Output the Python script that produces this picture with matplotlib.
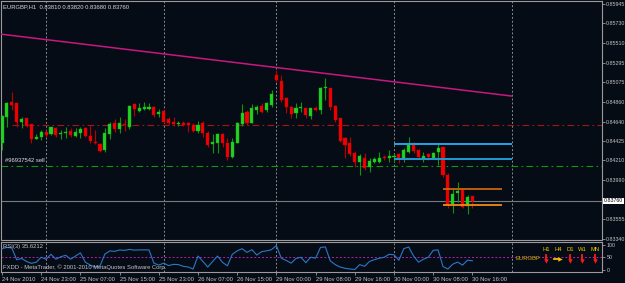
import matplotlib
matplotlib.use('Agg')
import matplotlib.pyplot as plt
import numpy as np

plt.rcParams['font.family'] = 'Liberation Sans'

# EURGBP H1, 24 Nov 15:00 .. 30 Nov 16:00
opens = [0.84407, 0.84689, 0.84862, 0.84844, 0.84640, 0.84678, 0.84611, 0.84452, 0.84467, 0.84523,
         0.84500, 0.84567, 0.84504, 0.84518, 0.84540, 0.84482, 0.84518, 0.84567, 0.84482, 0.84418,
         0.84393, 0.84326, 0.84504, 0.84622, 0.84556, 0.84611, 0.84585, 0.84833, 0.84762, 0.84778,
         0.84781, 0.84807, 0.84726, 0.84759, 0.84670, 0.84640, 0.84611, 0.84629, 0.84622, 0.84604,
         0.84540, 0.84622, 0.84518, 0.84393, 0.84407, 0.84504, 0.84407, 0.84252, 0.84407, 0.84615,
         0.84751, 0.84629, 0.84770, 0.84815, 0.84770, 0.84826, 0.85159, 0.85095, 0.84900, 0.84798,
         0.84734, 0.84796, 0.84789, 0.84704, 0.84796, 0.84770, 0.85011, 0.85011, 0.84815, 0.84678,
         0.84456, 0.84400, 0.84290, 0.84196, 0.84241, 0.84141, 0.84196, 0.84196, 0.84252, 0.84241,
         0.84245, 0.84278, 0.84223, 0.84307, 0.84393, 0.84326, 0.84223, 0.84278, 0.84234, 0.84307,
         0.84356, 0.84049, 0.83727, 0.83845, 0.83882, 0.83705, 0.83810]
highs = [0.84715, 0.84862, 0.84973, 0.84859, 0.84696, 0.84685, 0.84615, 0.84500, 0.84548, 0.84548,
         0.84585, 0.84585, 0.84548, 0.84585, 0.84567, 0.84567, 0.84585, 0.84585, 0.84604, 0.84548,
         0.84400, 0.84567, 0.84640, 0.84667, 0.84689, 0.84667, 0.84822, 0.84851, 0.84844, 0.84856,
         0.84851, 0.84815, 0.84778, 0.84770, 0.84696, 0.84689, 0.84651, 0.84651, 0.84640, 0.84629,
         0.84648, 0.84648, 0.84537, 0.84504, 0.84512, 0.84509, 0.84456, 0.84456, 0.84640, 0.84837,
         0.84770, 0.84837, 0.84826, 0.84844, 0.84862, 0.84992, 0.85214, 0.85159, 0.84918, 0.84815,
         0.84844, 0.84862, 0.84796, 0.84796, 0.84818, 0.85029, 0.85122, 0.85018, 0.84826, 0.84681,
         0.84474, 0.84474, 0.84315, 0.84278, 0.84290, 0.84234, 0.84252, 0.84301, 0.84271, 0.84326,
         0.84290, 0.84296, 0.84345, 0.84467, 0.84418, 0.84334, 0.84307, 0.84290, 0.84307, 0.84407,
         0.84371, 0.84068, 0.83901, 0.83974, 0.83901, 0.83827, 0.83820]
lows = [0.84326, 0.84585, 0.84770, 0.84585, 0.84567, 0.84585, 0.84407, 0.84445, 0.84437, 0.84474,
        0.84493, 0.84474, 0.84445, 0.84456, 0.84474, 0.84467, 0.84456, 0.84474, 0.84400, 0.84393,
        0.84307, 0.84307, 0.84445, 0.84529, 0.84518, 0.84540, 0.84556, 0.84704, 0.84751, 0.84770,
        0.84770, 0.84689, 0.84696, 0.84622, 0.84604, 0.84593, 0.84596, 0.84593, 0.84529, 0.84529,
        0.84518, 0.84467, 0.84356, 0.84290, 0.84290, 0.84356, 0.84215, 0.84234, 0.84400, 0.84593,
        0.84604, 0.84622, 0.84726, 0.84734, 0.84751, 0.84807, 0.85084, 0.84862, 0.84734, 0.84678,
        0.84678, 0.84751, 0.84678, 0.84670, 0.84759, 0.84722, 0.84881, 0.84770, 0.84640, 0.84415,
        0.84234, 0.84263, 0.84141, 0.84049, 0.84104, 0.84085, 0.84179, 0.84179, 0.84215, 0.84196,
        0.84196, 0.84179, 0.84196, 0.84290, 0.84296, 0.84234, 0.84196, 0.84215, 0.84223, 0.84160,
        0.84030, 0.83679, 0.83630, 0.83752, 0.83679, 0.83616, 0.83680]
closes = [0.84704, 0.84851, 0.84826, 0.84640, 0.84670, 0.84596, 0.84448, 0.84467, 0.84529, 0.84493,
          0.84581, 0.84493, 0.84518, 0.84529, 0.84493, 0.84523, 0.84559, 0.84482, 0.84426, 0.84400,
          0.84315, 0.84518, 0.84611, 0.84556, 0.84622, 0.84600, 0.84815, 0.84778, 0.84792, 0.84800,
          0.84800, 0.84715, 0.84751, 0.84640, 0.84622, 0.84615, 0.84629, 0.84607, 0.84600, 0.84540,
          0.84604, 0.84518, 0.84382, 0.84418, 0.84504, 0.84407, 0.84252, 0.84418, 0.84629, 0.84740,
          0.84622, 0.84789, 0.84807, 0.84751, 0.84844, 0.84948, 0.85103, 0.84881, 0.84807, 0.84720,
          0.84796, 0.84807, 0.84715, 0.84789, 0.84770, 0.85011, 0.85025, 0.84807, 0.84659, 0.84426,
          0.84382, 0.84278, 0.84190, 0.84263, 0.84130, 0.84204, 0.84226, 0.84241, 0.84234, 0.84263,
          0.84263, 0.84234, 0.84326, 0.84393, 0.84318, 0.84245, 0.84260, 0.84252, 0.84296, 0.84345,
          0.84049, 0.83716, 0.83838, 0.83871, 0.83690, 0.83801, 0.83760]

rsi = [85, 90, 88, 40, 45, 33, 25, 30, 50, 42,
       62, 42, 52, 58, 42, 55, 68, 30, 18, 10,
       15, 63, 76, 74, 80, 78, 82, 79, 80, 80,
       80, 26, 18, 26, 16, 21, 20, 13, 10, 2,
       55, 33, 10, 33, 55, 29, 15, 62, 76, 85,
       70, 81, 59, 73, 76, 81, 98, 46, 37, 26,
       45, 50, 28, 50, 46, 90, 92, 35, 20, 10,
       5, 2, 0, 20, 13, 33, 40, 46, 50, 62,
       60, 38, 85, 92, 55, 30, 42, 50, 78, 80,
       12, 2, 22, 30, 18, 38, 35.6212]

price_levels = [0.85945, 0.85730, 0.85510, 0.85295, 0.85075, 0.84860, 0.84640,
                0.84425, 0.84210, 0.83990, 0.83555, 0.83340]
bid = 0.83760

time_ticks = [0, 8, 16, 24, 32, 40, 48, 56, 64, 72, 80, 88, 96]
time_labels = ['24 Nov 2010', '24 Nov 23:00', '25 Nov 07:00', '25 Nov 15:00', '25 Nov 23:00',
               '26 Nov 07:00', '26 Nov 15:00', '29 Nov 00:00', '29 Nov 08:00', '29 Nov 16:00',
               '30 Nov 00:00', '30 Nov 08:00', '30 Nov 16:00']
day_starts = [9, 33, 56, 80, 104]

# objects on the chart
trend_x = [0, 104]
trend_y = [0.85609, 0.84924]
red_level, red_from = 0.84604, 2
order_level = 0.84149
blue_levels, blue_span = [0.84393, 0.84230], (80, 104)
orange_levels, orange_span = [0.83897, 0.83713], (90, 102)

bg = '#060c16'
grid_c = '#8a8a8a'
txt_c = '#c4c4c4'
fs = 4.2      # general text size
fs_axis = 3.8  # price scale (narrow column on the right)
W, H = 625, 283


def box(x0, y0, x1, y1):
    return [x0 / W, 1 - y1 / H, (x1 - x0) / W, (y1 - y0) / H]


fig = plt.figure(figsize=(W / 100, H / 100), dpi=100, facecolor=bg)
ax = fig.add_axes(box(1, 1, 602, 240), facecolor=bg)
axr = fig.add_axes(box(1, 242, 602, 272), facecolor=bg)

px_per_bar = 4.9
xl = ((1 - 2) / px_per_bar, (602 - 2) / px_per_bar)
step = 0.0001109
ax.set_xlim(*xl)
ax.set_ylim(bid - (240 - 201) * step, bid + (201 - 1) * step)
axr.set_xlim(*xl)
axr.set_ylim(-(272 - 269.5) / 0.245, 100 + (245 - 242) / 0.245)

for a in (ax, axr):
    for s in a.spines.values():
        s.set_color('#9a9a9a')
        s.set_linewidth(0.8)
    for d in day_starts:
        a.axvline(d, color=grid_c, lw=0.7, ls=(0, (2, 2)), zorder=1)

# candles
idx = np.arange(len(closes))
o = np.array(opens); c = np.array(closes)
up = c >= o
body_lo = np.minimum(o, c)
body_h = np.maximum(np.abs(c - o), 0.00006)
ax.vlines(idx[up], np.array(lows)[up], np.array(highs)[up], color='#0e960e', lw=0.8, zorder=3)
ax.vlines(idx[~up], np.array(lows)[~up], np.array(highs)[~up], color='#b80000', lw=0.8, zorder=3)
ax.bar(idx[up], body_h[up], bottom=body_lo[up], width=0.62, color='#22d322',
       edgecolor='#18b018', lw=0.3, zorder=4)
ax.bar(idx[~up], body_h[~up], bottom=body_lo[~up], width=0.62, color='#f00000',
       edgecolor='#d00000', lw=0.3, zorder=4)

# lines / objects
ax.plot(trend_x, trend_y, color='#c8177f', lw=1.1, zorder=5)
ax.hlines(red_level, red_from, xl[1], color='#a81414', lw=0.8, ls=(0, (6, 3, 1.5, 3)), zorder=2)
ax.axhline(order_level, color='#129612', lw=0.8, ls=(0, (6, 3, 1.5, 3)), zorder=2)
ax.axhline(bid, color='#7a7a7a', lw=0.8, zorder=2)
for lv, col in zip(blue_levels, ['#1ea6e6', '#1f9ad4']):
    ax.hlines(lv, blue_span[0], blue_span[1], color=col, lw=1.4, zorder=5)
for lv, col in zip(orange_levels, ['#c8640a', '#f08a14']):
    ax.hlines(lv, orange_span[0], orange_span[1], color=col, lw=1.3, zorder=5)
ax.text(0.7, order_level + 0.00028, '#96937542 sell', color='#e0e0e0', fontsize=fs,
        va='bottom', ha='left', zorder=6)

# price scale
ax.yaxis.tick_right()
ax.set_yticks(price_levels)
ax.set_yticklabels([f'{p:.5f}' for p in price_levels])
ax.tick_params(axis='y', direction='out', length=2, width=0.6, color='#9a9a9a',
               labelcolor=txt_c, labelsize=fs_axis, pad=0.8)
ax.set_xticks([])
ax.text(1.0032, bid, f'{bid:.5f}', transform=ax.get_yaxis_transform(), ha='left', va='center',
        fontsize=fs_axis, color='black', bbox=dict(facecolor='white', edgecolor='none', pad=0.5))
ax.text(0.004, 0.985, 'EURGBP,H1  0.83810 0.83820 0.83680 0.83760', transform=ax.transAxes,
        ha='left', va='top', fontsize=fs, color='#d8d8d8')

# RSI pane
axr.plot(idx, rsi, color='#2a78c8', lw=0.8, zorder=3)
axr.axhline(50, color='#b020b0', lw=0.7, ls=(0, (2, 2)), zorder=2)
axr.yaxis.tick_right()
axr.set_yticks([0, 50, 100])
axr.set_yticklabels(['0', '50', '100'])
axr.tick_params(axis='y', direction='out', length=2, width=0.6, color='#9a9a9a',
                labelcolor=txt_c, labelsize=fs_axis, pad=1.5)
axr.set_xticks(time_ticks)
axr.set_xticklabels(time_labels, ha='left')
axr.tick_params(axis='x', direction='out', length=2.5, width=0.6, color='#9a9a9a',
                labelcolor=txt_c, labelsize=fs, pad=1.2)
axr.text(0.004, 0.86, f'RSI(3) {rsi[-1]:.4f}', transform=axr.transAxes, ha='left', va='center',
         fontsize=fs, color=txt_c)
axr.text(0.004, 0.17, 'FXDD - MetaTrader, \u00a9 2001-2010 MetaQuotes Software Corp.',
         transform=axr.transAxes, ha='left', va='center', fontsize=fs, color=txt_c)

# trend panel (H1 H4 D1 W1 MN)
fig.text(515 / W, 1 - 259 / H, 'EURGBP', color='#c8b400', fontsize=fs, ha='left', va='center')
panel = [('H1', 546, 'd'), ('H4', 558, 'r'), ('D1', 570, 'd'), ('W1', 582, 'd'), ('MN', 595, 'd')]
for lab, xp, kind in panel:
    fig.text(xp / W, 1 - 249.5 / H, lab, color='#e0cc00', fontsize=fs, ha='center', va='center')
    if kind == 'd':
        fig.add_artist(plt.Line2D([xp / W, xp / W], [1 - 255 / H, 1 - 260 / H], color='#ff1a1a', lw=1.3))
        fig.add_artist(plt.Line2D([xp / W], [1 - 261 / H], marker='v', ms=3.2, color='#ff1a1a', mew=0))
    else:
        fig.add_artist(plt.Line2D([(xp - 4) / W, (xp + 1) / W], [1 - 258.5 / H] * 2, color='#f0c000', lw=1.3))
        fig.add_artist(plt.Line2D([(xp + 2) / W], [1 - 258.5 / H], marker='>', ms=3.2, color='#f0c000', mew=0))

fig.savefig('out.png', dpi=100, facecolor=bg)
